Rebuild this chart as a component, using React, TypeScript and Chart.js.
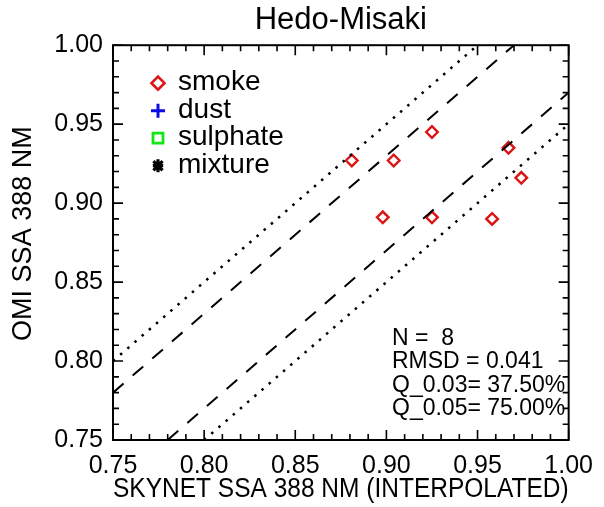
import React, { useEffect, useRef } from 'react';
import { Chart, registerables } from 'chart.js';

Chart.register(...registerables);

const TITLE = 'Hedo-Misaki';
const X_TITLE = 'SKYNET SSA 388 NM (INTERPOLATED)';
const Y_TITLE = 'OMI SSA 388 NM';

const AXIS_MIN = 0.75;
const AXIS_MAX = 1.0;
const MAJOR_TICKS = [0.75, 0.8, 0.85, 0.9, 0.95, 1.0];
const MINOR_COUNT = 25; // 0.01 steps

const smokeX = [0.881, 0.904, 0.925, 0.898, 0.925, 0.958, 0.967, 0.974];
const smokeY = [0.927, 0.927, 0.945, 0.891, 0.891, 0.89, 0.935, 0.916];

const legendNames = ['smoke', 'dust', 'sulphate', 'mixture'];
const legendColors = ['rgb(220,20,20)', 'rgb(10,10,230)', 'rgb(20,230,20)', '#000000'];

const envelopeOffsets = [0.05, 0.03, -0.03, -0.05];
const envelopeStyles = ['dotted', 'dashed', 'dashed', 'dotted'];

const statLines = ['N =  8', 'RMSD = 0.041', 'Q_0.03= 37.50%', 'Q_0.05= 75.00%'];

const FONT = '"Liberation Sans", Arial, Helvetica, sans-serif';

function envelopePoints(d: number) {
  const x0 = Math.max(AXIS_MIN, AXIS_MIN - d);
  const x1 = Math.min(AXIS_MAX, AXIS_MAX - d);
  return [
    { x: x0, y: x0 + d },
    { x: x1, y: x1 + d },
  ];
}

function drawMarker(ctx: CanvasRenderingContext2D, kind: number, x: number, y: number, color: string) {
  ctx.save();
  ctx.strokeStyle = color;
  ctx.lineWidth = 2.6;
  ctx.beginPath();
  if (kind === 0) {
    const r = 6.5;
    ctx.moveTo(x - r, y);
    ctx.lineTo(x, y - r);
    ctx.lineTo(x + r, y);
    ctx.lineTo(x, y + r);
    ctx.closePath();
  } else if (kind === 1) {
    const r = 7;
    ctx.lineWidth = 3;
    ctx.moveTo(x - r, y);
    ctx.lineTo(x + r, y);
    ctx.moveTo(x, y - r);
    ctx.lineTo(x, y + r);
  } else if (kind === 2) {
    const r = 5;
    ctx.lineWidth = 2.8;
    ctx.rect(x - r, y - r, 2 * r, 2 * r);
  } else {
    const r = 6.5;
    ctx.lineWidth = 3.2;
    ctx.moveTo(x, y - r);
    ctx.lineTo(x, y + r);
    const c = Math.cos(Math.PI / 4) * r;
    ctx.moveTo(x - c, y - c);
    ctx.lineTo(x + c, y + c);
    ctx.moveTo(x - c, y + c);
    ctx.lineTo(x + c, y - c);
    ctx.moveTo(x - r * 0.8, y);
    ctx.lineTo(x + r * 0.8, y);
  }
  ctx.stroke();
  ctx.restore();
}

const framePlugin = {
  id: 'frameTicks',
  afterDatasetsDraw(chart: any) {
    const { ctx, chartArea } = chart;
    const xs = chart.scales.x;
    const ys = chart.scales.y;
    const { left, right, top, bottom } = chartArea;
    ctx.save();
    ctx.strokeStyle = '#000';
    ctx.lineWidth = 2;
    ctx.strokeRect(left, top, right - left, bottom - top);
    ctx.lineWidth = 1.6;
    ctx.beginPath();
    for (let i = 0; i <= MINOR_COUNT; i++) {
      const v = AXIS_MIN + (i * (AXIS_MAX - AXIS_MIN)) / MINOR_COUNT;
      const len = i % 5 === 0 ? 10 : 6;
      const px = xs.getPixelForValue(v);
      ctx.moveTo(px, bottom);
      ctx.lineTo(px, bottom - len);
      ctx.moveTo(px, top);
      ctx.lineTo(px, top + len);
      const py = ys.getPixelForValue(v);
      ctx.moveTo(left, py);
      ctx.lineTo(left + len, py);
      ctx.moveTo(right, py);
      ctx.lineTo(right - len, py);
    }
    ctx.stroke();

    // y axis title
    ctx.save();
    ctx.translate(24, (top + bottom) / 2 - 9);
    ctx.rotate(-Math.PI / 2);
    ctx.font = `27px ${FONT}`;
    ctx.fillStyle = '#000';
    ctx.textAlign = 'center';
    ctx.textBaseline = 'middle';
    ctx.fillText(Y_TITLE, 0, 0);
    ctx.restore();

    // legend
    ctx.font = `28px ${FONT}`;
    ctx.fillStyle = '#000';
    ctx.textAlign = 'left';
    ctx.textBaseline = 'alphabetic';
    legendNames.forEach((name, i) => {
      const base = top + 45 + i * 27.5;
      drawMarker(ctx, i, left + 45, base - 7, legendColors[i]);
      ctx.fillStyle = '#000';
      ctx.fillText(name, left + 65, base);
    });

    // stats
    ctx.font = `23px ${FONT}`;
    statLines.forEach((line, i) => {
      ctx.fillText(line, left + 279, bottom - 95 + i * 23.4);
    });
    ctx.restore();
  },
};

export default function App() {
  const canvasRef = useRef<HTMLCanvasElement | null>(null);

  useEffect(() => {
    const canvas = canvasRef.current;
    if (!canvas) return;
    const datasets: any[] = envelopeOffsets.map((d, i) => ({
      label: `env${i}`,
      data: envelopePoints(d),
      showLine: true,
      borderColor: '#000',
      borderWidth: envelopeStyles[i] === 'dashed' ? 2 : 2.5,
      borderDash: envelopeStyles[i] === 'dashed' ? [14, 12] : [2.5, 7],
      pointRadius: 0,
      fill: false,
    }));
    datasets.push({
      label: legendNames[0],
      data: smokeX.map((x, i) => ({ x, y: smokeY[i] })),
      pointStyle: 'rectRot',
      pointRadius: 5.8,
      pointBorderWidth: 2.4,
      borderColor: legendColors[0],
      backgroundColor: 'rgba(0,0,0,0)',
      showLine: false,
    });

    const axisCommon = () => ({
      type: 'linear' as const,
      min: AXIS_MIN,
      max: AXIS_MAX,
      afterBuildTicks: (s: any) => {
        s.ticks = MAJOR_TICKS.map((v) => ({ value: v }));
      },
      grid: { display: false, drawTicks: false },
      border: { display: false },
      ticks: {
        callback: (v: any) => Number(v).toFixed(2),
        font: { family: FONT, size: 25 },
        color: '#000',
        maxRotation: 0,
        autoSkip: false,
      },
    });

    const xAxis: any = axisCommon();
    xAxis.ticks.padding = 11;
    xAxis.title = {
      display: true,
      text: X_TITLE,
      color: '#000',
      font: { family: FONT, size: 27, lineHeight: 1.2 },
      padding: { top: 0, bottom: 1 },
    };
    xAxis.afterFit = (s: any) => {
      s.height = 67;
    };
    const yAxis: any = axisCommon();
    yAxis.ticks.padding = 10;
    yAxis.afterFit = (s: any) => {
      s.width = 113;
    };

    const chart = new Chart(canvas, {
      type: 'scatter',
      data: { datasets },
      options: {
        animation: false,
        responsive: false,
        layout: { padding: { top: 0, right: 29, left: 0, bottom: 0 } },
        plugins: {
          legend: { display: false },
          tooltip: { enabled: false },
          title: {
            display: true,
            text: TITLE,
            color: '#000',
            fullSize: false,
            font: { family: FONT, size: 31, weight: 'normal', lineHeight: 1.2 },
            padding: { top: 2, bottom: 6 },
          },
        },
        scales: { x: xAxis, y: yAxis },
      },
      plugins: [framePlugin],
    });
    return () => chart.destroy();
  }, []);

  return (
    <div style={{ position: 'absolute', left: 0, top: 0, width: 604, height: 507, background: '#fff' }}>
      <canvas ref={canvasRef} width={604} height={507} style={{ display: 'block' }} />
    </div>
  );
}
